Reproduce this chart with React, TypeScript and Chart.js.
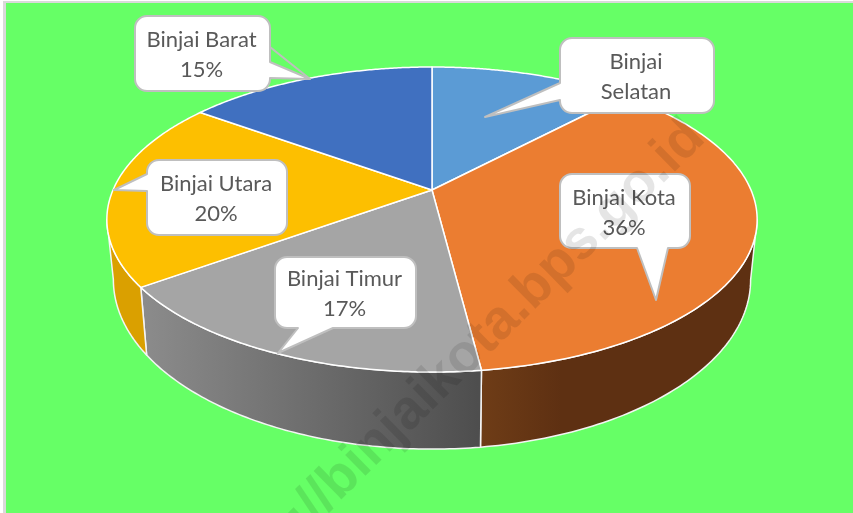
import React, { useEffect, useRef } from "react";
import { Chart, registerables } from "chart.js";

Chart.register(...registerables);

const categories = ["Binjai Selatan", "Binjai Kota", "Binjai Timur", "Binjai Utara", "Binjai Barat"];
const shares = [12, 36, 17, 20, 15];
const topColors = ["#5B9BD5", "#EB7D31", "#A5A5A5", "#FDBF00", "#4070C0"];

const WIDTH = 853;
const HEIGHT = 513;
const WATERMARK = "http://binjaikota.bps.go.id";

// perspective of the disc: top plane and bottom plane
const P = 0.1935;
const CX = 432;
const TOP_PLANE = { r: 319, k: 146.8, cy: 190 };
const BOTTOM_PLANE = { r: 312.6, k: 163, cy: 247 };

type Plane = typeof TOP_PLANE;
const project = (pl: Plane, a: number) => {
  const u = Math.cos(a);
  const v = Math.sin(a);
  const w = 1 - P * v;
  return [CX + (pl.r * u) / w, pl.cy + (pl.k * v) / w];
};

const wallStyles: Record<number, [number, number, [number, string][]]> = {
  1: [478, 757, [[0, "#6F3D17"], [0.3, "#5E3012"], [1, "#5E3012"]]],
  2: [140, 478, [[0, "#8C8C8C"], [1, "#4E4E4E"]]],
  3: [107, 147, [[0, "#DAA000"], [1, "#DAA000"]]],
};

type Callout = {
  lines: string[];
  box: [number, number, number, number];
  side: "left" | "right" | "bottom";
  base: [number, number];
  tip: [number, number];
  spur?: [number, number];
};

const callouts: Callout[] = [
  { lines: ["Binjai", "Selatan"], box: [560, 38, 714, 113], side: "left", base: [83, 100], tip: [485, 117] },
  { lines: ["Binjai Kota", "36%"], box: [560, 174, 690, 248], side: "bottom", base: [637, 668], tip: [656, 300] },
  { lines: ["Binjai Timur", "17%"], box: [275, 257, 416, 328], side: "bottom", base: [298, 333], tip: [278, 353] },
  { lines: ["Binjai Utara", "20%"], box: [147, 160, 287, 235], side: "left", base: [174, 191], tip: [114, 190] },
  { lines: ["Binjai Barat", "15%"], box: [135, 16, 270, 91], side: "right", base: [62, 78], tip: [310, 79], spur: [270, 47] },
];

const drawCallout = (ctx: CanvasRenderingContext2D, c: Callout) => {
  const [x0, y0, x1, y1] = c.box;
  const r = 12;
  ctx.beginPath();
  ctx.moveTo(x0 + r, y0);
  ctx.lineTo(x1 - r, y0);
  ctx.arcTo(x1, y0, x1, y0 + r, r);
  if (c.side === "right") {
    ctx.lineTo(x1, c.base[0]);
    ctx.lineTo(c.tip[0], c.tip[1]);
    ctx.lineTo(x1, c.base[1]);
  }
  ctx.lineTo(x1, y1 - r);
  ctx.arcTo(x1, y1, x1 - r, y1, r);
  if (c.side === "bottom") {
    ctx.lineTo(c.base[1], y1);
    ctx.lineTo(c.tip[0], c.tip[1]);
    ctx.lineTo(c.base[0], y1);
  }
  ctx.lineTo(x0 + r, y1);
  ctx.arcTo(x0, y1, x0, y1 - r, r);
  if (c.side === "left") {
    ctx.lineTo(x0, c.base[1]);
    ctx.lineTo(c.tip[0], c.tip[1]);
    ctx.lineTo(x0, c.base[0]);
  }
  ctx.lineTo(x0, y0 + r);
  ctx.arcTo(x0, y0, x0 + r, y0, r);
  ctx.closePath();
  ctx.fillStyle = "#FFFFFF";
  ctx.fill();
  ctx.strokeStyle = "#BFBFBF";
  ctx.lineWidth = 2;
  ctx.lineJoin = "round";
  ctx.stroke();
  if (c.spur) {
    ctx.beginPath();
    ctx.moveTo(c.spur[0], c.spur[1]);
    ctx.lineTo(c.tip[0], c.tip[1]);
    ctx.stroke();
  }
  ctx.fillStyle = "#595959";
  ctx.font = "22px Lato, 'Open Sans', sans-serif";
  ctx.textAlign = "center";
  ctx.textBaseline = "middle";
  const cx = (x0 + x1) / 2 - 1;
  const cy = (y0 + y1) / 2;
  ctx.fillText(c.lines[0], cx, cy - 13.5);
  ctx.fillText(c.lines[1], cx, cy + 16.5);
};

const pie3d = {
  id: "pie3d",
  beforeDraw(chart: Chart) {
    const ctx = chart.ctx;
    ctx.save();
    ctx.fillStyle = "#FFFFFF";
    ctx.fillRect(0, 0, WIDTH, HEIGHT);
    ctx.fillStyle = "#D9D9D9";
    ctx.fillRect(3, 1, WIDTH - 3, HEIGHT - 1);
    ctx.fillStyle = "#66FF66";
    ctx.fillRect(6, 3, WIDTH - 6, HEIGHT - 3);
    ctx.restore();
  },
  beforeDatasetsDraw(chart: Chart) {
    const ctx = chart.ctx;
    const arcs = chart.getDatasetMeta(0).data as any[];
    const limit = Math.asin(P);
    ctx.save();
    ctx.lineJoin = "round";
    // walls first
    arcs.forEach((arc, i) => {
      const { startAngle, endAngle } = arc.getProps(["startAngle", "endAngle"]);
      const a0 = Math.max(startAngle, limit);
      const a1 = Math.min(endAngle, Math.PI - limit);
      if (a1 <= a0 || !wallStyles[i]) return;
      const steps = 80;
      const top: number[][] = [];
      const bottom: number[][] = [];
      for (let s = 0; s <= steps; s++) {
        const a = a0 + ((a1 - a0) * s) / steps;
        top.push(project(TOP_PLANE, a));
        bottom.push(project(BOTTOM_PLANE, a));
      }
      ctx.beginPath();
      top.forEach(([x, y], n) => (n ? ctx.lineTo(x, y) : ctx.moveTo(x, y)));
      bottom.reverse().forEach(([x, y]) => ctx.lineTo(x, y));
      ctx.closePath();
      const [gx0, gx1, stops] = wallStyles[i];
      const g = ctx.createLinearGradient(gx0, 0, gx1, 0);
      stops.forEach(([o, col]) => g.addColorStop(o, col));
      ctx.fillStyle = g;
      ctx.fill();
      ctx.strokeStyle = "#F4F4F4";
      ctx.lineWidth = 1.5;
      ctx.stroke();
    });
    // top faces
    arcs.forEach((arc, i) => {
      const { startAngle, endAngle } = arc.getProps(["startAngle", "endAngle"]);
      const steps = 120;
      ctx.beginPath();
      ctx.moveTo(CX, TOP_PLANE.cy);
      for (let s = 0; s <= steps; s++) {
        const [x, y] = project(TOP_PLANE, startAngle + ((endAngle - startAngle) * s) / steps);
        ctx.lineTo(x, y);
      }
      ctx.closePath();
      ctx.fillStyle = topColors[i];
      ctx.fill();
      ctx.strokeStyle = "#FFFFFF";
      ctx.lineWidth = 1.5;
      ctx.stroke();
    });
    ctx.restore();
    return false;
  },
  afterDraw(chart: Chart) {
    const ctx = chart.ctx;
    ctx.save();
    callouts.forEach((c) => drawCallout(ctx, c));
    ctx.translate(707, 140);
    ctx.rotate((-44.5 * Math.PI) / 180);
    ctx.font = "bold 55px 'Liberation Sans', Arial, sans-serif";
    ctx.textAlign = "right";
    ctx.textBaseline = "alphabetic";
    ctx.fillStyle = "rgba(0,0,0,0.1)";
    ctx.fillText(WATERMARK, 0, 0);
    ctx.restore();
  },
};

export default function App() {
  const ref = useRef<HTMLCanvasElement>(null);
  useEffect(() => {
    document.body.style.margin = "0";
    const chart = new Chart(ref.current!, {
      type: "pie",
      data: {
        labels: categories,
        datasets: [{ data: shares, backgroundColor: topColors, borderColor: "#FFFFFF", borderWidth: 1.5 }],
      },
      options: {
        responsive: false,
        animation: false,
        plugins: { legend: { display: false }, tooltip: { enabled: false } },
      },
      plugins: [pie3d],
    } as any);
    return () => chart.destroy();
  }, []);
  return (
    <canvas
      ref={ref}
      width={WIDTH}
      height={HEIGHT}
      style={{ display: "block", width: WIDTH, height: HEIGHT }}
    />
  );
}
